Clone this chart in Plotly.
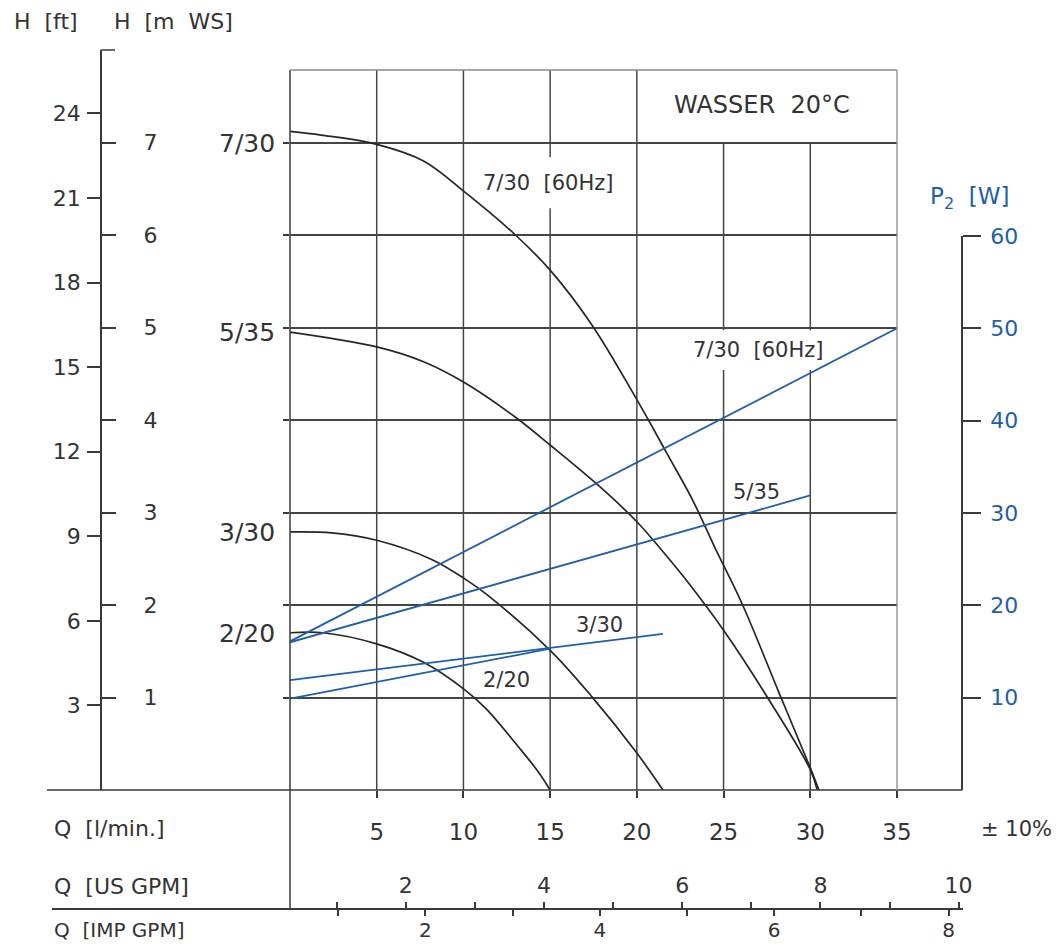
import plotly.graph_objects as go

# ---------------- data ----------------
q_ticks = [5, 10, 15, 20, 25, 30, 35]
h_m_ticks = [1, 2, 3, 4, 5, 6, 7]
h_ft_ticks = [3, 6, 9, 12, 15, 18, 21, 24]
p_ticks = [10, 20, 30, 40, 50, 60]
us_gpm_ticks = [2, 4, 6, 8, 10]
us_gpm_minor = [1, 3, 5, 7, 9]
imp_gpm_ticks = [2, 4, 6, 8]
imp_gpm_minor = [1, 3, 5, 7]

# pump curves H [m] over Q [l/min]
q_730 = [0, 1.8, 5.0, 7.7, 10.1, 13.0, 15.0, 17.4, 20.0, 21.7, 23.2, 24.5, 26.1, 28.2, 30.0, 30.5]
h_730 = [7.12, 7.08, 6.98, 6.80, 6.46, 6.00, 5.62, 5.03, 4.22, 3.65, 3.14, 2.62, 2.00, 1.05, 0.24, 0.0]

q_535 = [0, 5.0, 7.7, 10.1, 13.0, 15.0, 17.8, 20.0, 21.4, 22.8, 25.1, 27.4, 30.0, 30.4]
h_535 = [4.95, 4.79, 4.63, 4.40, 4.03, 3.73, 3.29, 2.90, 2.60, 2.28, 1.70, 1.04, 0.22, 0.0]

q_330 = [0, 2.4, 5.0, 8.2, 10.1, 11.3, 15.0, 17.4, 20.0, 21.5]
h_330 = [2.79, 2.78, 2.70, 2.49, 2.28, 2.12, 1.51, 1.01, 0.40, 0.0]

q_220 = [0, 1.9, 5.0, 7.7, 10.1, 11.3, 13.2, 14.3, 15.0]
h_220 = [1.70, 1.70, 1.58, 1.38, 1.08, 0.88, 0.46, 0.20, 0.0]

# power P2 [W] over Q [l/min]
q_p730 = [0, 35]
p_730 = [16.1, 50.0]
q_p535 = [0, 30]
p_535 = [16.0, 31.9]
q_p330 = [0, 21.5]
p_330 = [11.9, 16.9]
q_p220 = [0, 15]
p_220 = [9.9, 15.3]

curve_names = ["7/30", "5/35", "3/30", "2/20"]

# ---------------- styling / layout helpers ----------------
FIG_W, FIG_H = 1047, 936      # figure size so the page fits the window
OX, OY = 8, 8                 # page offset of the figure (body margin)
TXT = "#333333"
DARK = "#3a3a3a"
GRID = "#454545"
LIGHT = "#8a8a8a"
BLUE = "#1f5ea8"
FONT = "DejaVu Sans"


def fx(px):
    return (px - OX) / FIG_W


def fy(py):
    return 1 - (py - OY) / FIG_H


H_TOP = (790 - 70) / 92.5

fig = go.Figure()

black_curves = [(q_730, h_730), (q_535, h_535), (q_330, h_330), (q_220, h_220)]
for (qq, hh), nm in zip(black_curves, curve_names):
    fig.add_trace(go.Scatter(x=qq, y=hh, mode="lines", name=nm,
                             line=dict(color="#262626", width=1.7, shape="spline", smoothing=1.0),
                             xaxis="x", yaxis="y", hoverinfo="skip"))

power_lines = [(q_p730, p_730), (q_p535, p_535), (q_p330, p_330), (q_p220, p_220)]
for (qq, pp), nm in zip(power_lines, curve_names):
    fig.add_trace(go.Scatter(x=qq, y=pp, mode="lines", name=nm + " P2",
                             line=dict(color=BLUE, width=1.8),
                             xaxis="x", yaxis="y3", hoverinfo="skip"))

# invisible helpers so the secondary scales are drawn
for xa, ya in [("x", "y2"), ("x", "y4"), ("x2", "y2"), ("x3", "y2")]:
    fig.add_trace(go.Scatter(x=[0], y=[0], mode="markers", xaxis=xa, yaxis=ya,
                             marker=dict(opacity=0), hoverinfo="skip", showlegend=False))

# US / IMP gallon scales as fitted linear scales
us_px0, us_ppu = 267.6, 69.1
imp_px0, imp_ppu = 251.0, 87.2
gx0, gx1 = 52, 963


def gpm_range(p0, ppu):
    return [(gx0 - p0) / ppu, (gx1 - p0) / ppu]


tick_common = dict(ticks="outside", tickwidth=1.5, tickcolor=DARK,
                   zeroline=False, tickmode="array", automargin=False)

fig.update_layout(
    width=FIG_W, height=FIG_H,
    margin=dict(l=0, r=0, t=0, b=0),
    paper_bgcolor="white",
    plot_bgcolor="rgba(0,0,0,0)",
    showlegend=False,
    font=dict(family=FONT, color=TXT, size=22),
    xaxis=dict(domain=[fx(290), fx(897)], range=[0, 35], tickvals=q_ticks, ticklen=7,
               showline=False, showgrid=False, anchor="y", tickfont=dict(size=23),
               ticklabelstandoff=14, **tick_common),
    yaxis=dict(domain=[fy(790), fy(70)], range=[0, H_TOP], tickvals=h_m_ticks, ticklen=6,
               showticklabels=False, anchor="x", showline=False,
               showgrid=True, gridcolor=GRID, gridwidth=1.5, **tick_common),
    yaxis2=dict(domain=[fy(790), fy(50)], range=[0, 740 / (92.5 / 3.28084)], tickvals=h_ft_ticks,
                ticklen=13, anchor="free", position=fx(101), side="left", showgrid=False,
                showline=True, linecolor=DARK, linewidth=1.5, ticklabelstandoff=2,
                **tick_common),
    yaxis4=dict(domain=[fy(790), fy(50)], range=[0, 8.0], tickvals=h_m_ticks,
                ticklen=14, anchor="free", position=fx(101), side="right", showgrid=False,
                showline=False, ticklabelstandoff=23, **tick_common),
    yaxis3=dict(domain=[fy(790), fy(236)], range=[0, 60], tickvals=p_ticks, ticklen=18,
                anchor="free", position=fx(962), side="right", showline=True, showgrid=False,
                linecolor=DARK, linewidth=1.5, tickfont=dict(color=BLUE, size=22),
                ticklabelstandoff=5, **tick_common),
    xaxis2=dict(domain=[fx(gx0), fx(gx1)], range=gpm_range(us_px0, us_ppu),
                tickvals=us_gpm_ticks, ticklen=6, anchor="free", position=fy(909), side="top",
                showline=True, linecolor=DARK, linewidth=1.5, ticklabelstandoff=0, showgrid=False,
                minor=dict(tickmode="array", tickvals=us_gpm_minor, ticks="outside", ticklen=6,
                           tickcolor=DARK, tickwidth=1.5),
                **tick_common),
    xaxis3=dict(domain=[fx(gx0), fx(gx1)], range=gpm_range(imp_px0, imp_ppu),
                tickvals=imp_gpm_ticks, ticklen=6, anchor="free", position=fy(909), side="bottom",
                showline=False, ticklabelstandoff=-3, showgrid=False, tickfont=dict(size=20),
                minor=dict(tickmode="array", tickvals=imp_gpm_minor, ticks="outside", ticklen=6,
                           tickcolor=DARK, tickwidth=1.5),
                **tick_common),
)

shapes = []
# vertical grid lines (25 and 30 stop below the title box)
for q in q_ticks[:-1]:
    top = H_TOP if q <= 20 else 7.0
    shapes.append(dict(type="line", xref="x", yref="y", x0=q, x1=q, y0=0, y1=top,
                       line=dict(color=GRID, width=1.5), layer="below"))
# gaps behind in-plot labels
for (x0, x1, y0, y1) in [(10.8, 18.8, 6.29, 6.84), (23.3, 30.7, 4.54, 4.97)]:
    shapes.append(dict(type="rect", xref="x", yref="y", x0=x0, x1=x1, y0=y0, y1=y1,
                       fillcolor="white", line=dict(width=0), layer="below"))
# frame lines
shapes += [
    dict(type="line", xref="paper", yref="paper", x0=fx(47), x1=fx(962), y0=fy(790), y1=fy(790),
         line=dict(color=DARK, width=1.5)),
    dict(type="line", xref="paper", yref="paper", x0=fx(290), x1=fx(290), y0=fy(70), y1=fy(909),
         line=dict(color=DARK, width=1.5)),
    dict(type="line", xref="paper", yref="paper", x0=fx(290), x1=fx(897), y0=fy(70), y1=fy(70),
         line=dict(color=LIGHT, width=1.3)),
    dict(type="line", xref="paper", yref="paper", x0=fx(897), x1=fx(897), y0=fy(70), y1=fy(790),
         line=dict(color=LIGHT, width=1.3)),
    dict(type="line", xref="paper", yref="paper", x0=fx(101), x1=fx(115), y0=fy(50), y1=fy(50),
         line=dict(color=DARK, width=1.5)),
]
fig.update_layout(shapes=shapes)

ann = []


def txt(x, y, s, size=22, color=TXT, xanchor="center", xref="paper", yref="paper"):
    ann.append(dict(x=x, y=y, text=s, xref=xref, yref=yref, showarrow=False,
                    xanchor=xanchor, yanchor="middle", font=dict(size=size, color=color, family=FONT)))


txt(fx(12), fy(22), "H  [ft]", 22, xanchor="left")
txt(fx(112), fy(22), "H  [m  WS]", 22, xanchor="left")
txt(fx(762), fy(105), "WASSER  20°C", 24)
txt(fx(928), fy(198), "P<sub>2</sub>  [W]", 23, color=BLUE, xanchor="left")
txt(fx(52), fy(828), "Q  [l/min.]", 22, xanchor="left")
txt(fx(1054), fy(829), "± 10%", 21, xanchor="right")
txt(fx(52), fy(886), "Q  [US GPM]", 22, xanchor="left")
txt(fx(52), fy(930), "Q  [IMP GPM]", 20, xanchor="left")

# curve labels at the left edge
for nm, yv in zip(curve_names, [6.99, 4.95, 2.78, 1.69]):
    ann.append(dict(x=fx(277), y=yv, xref="paper", yref="y", text=nm, showarrow=False,
                    xanchor="right", yanchor="middle", font=dict(size=25, color=TXT, family=FONT)))

# in-plot labels
txt(14.85, 6.56, "7/30  [60Hz]", 21, xref="x", yref="y")
txt(26.98, 4.76, "7/30  [60Hz]", 21, xref="x", yref="y")
txt(26.87, 3.22, "5/35", 21, xref="x", yref="y")
txt(17.82, 1.78, "3/30", 21, xref="x", yref="y")
txt(12.5, 1.19, "2/20", 21, xref="x", yref="y")

fig.update_layout(annotations=ann)

fig.write_html("out.html")
